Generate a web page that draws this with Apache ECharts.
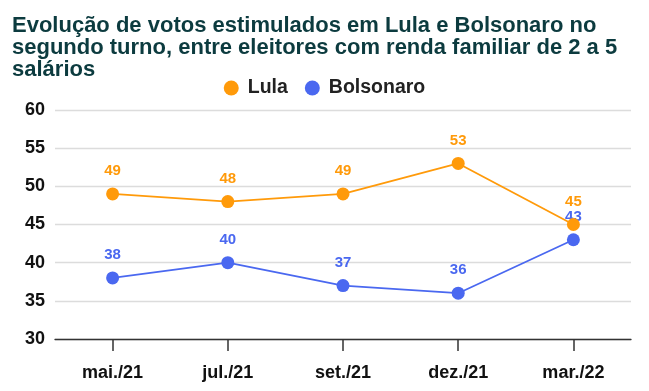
<!DOCTYPE html>
<html><head><meta charset="utf-8">
<script src="https://cdn.jsdelivr.net/npm/echarts@6/dist/echarts.min.js"></script>
<style>html,body{margin:0;padding:0;background:#fff}#c{width:649px;height:391px}</style>
</head><body><div id="c"></div>
<script>
const categories = ['mai./21','jul./21','set./21','dez./21','mar./22'];
const lula = [49, 48, 49, 53, 45];
const bolsonaro = [38, 40, 37, 36, 43];
const yTicks = [30, 35, 40, 45, 50, 55, 60];
const titleText = 'Evolução de votos estimulados em Lula e Bolsonaro no\nsegundo turno, entre eleitores com renda familiar de 2 a 5\nsalários';

const chart = echarts.init(document.getElementById('c'));
const font = 'Liberation Sans, Arial, sans-serif';
function mk(name, data, color){
  return {
    name, type:'line', data, symbol:'circle', symbolSize:13,
    itemStyle:{color}, lineStyle:{color, width:1.8},
    label:{show:true, position:'top', distance:9, color, fontWeight:'bold', fontSize:15, fontFamily:font},
    z: name==='Lula'?3:2
  };
}
chart.setOption({
  animation:false,
  title:{text:titleText, left:7, top:10, textStyle:{color:'#0c3b3f', fontSize:22, fontWeight:'bold', fontFamily:font, lineHeight:22}},
  legend:{top:73, left:'center', itemWidth:15, itemHeight:15, itemGap:17, icon:'circle',
    textStyle:{fontSize:19.5, fontWeight:'bold', color:'#222', fontFamily:font, padding:[0,0,0,4]}},
  grid:{left:55, right:18, top:110, bottom:52},
  xAxis:{type:'category', data:categories, boundaryGap:true,
    axisLine:{show:true, lineStyle:{color:'#333', width:1.3}},
    axisTick:{show:true, alignWithLabel:true, length:12, lineStyle:{color:'#333', width:1.5}},
    axisLabel:{fontSize:18, fontWeight:'bold', color:'#111', margin:25, fontFamily:font}},
  yAxis:{type:'value', min:yTicks[0], max:yTicks[yTicks.length-1], interval:5,
    axisLine:{show:false}, axisTick:{show:false},
    splitLine:{lineStyle:{color:'#dcdcdc', width:1.3}},
    axisLabel:{fontSize:18, fontWeight:'bold', color:'#111', margin:10, fontFamily:font}},
  series:[mk('Lula', lula, '#ff9a0a'), mk('Bolsonaro', bolsonaro, '#4a68f0')]
});
</script></body></html>
